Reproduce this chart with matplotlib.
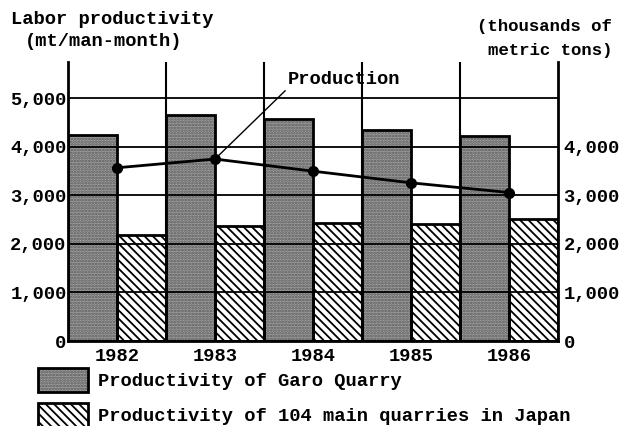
import matplotlib
matplotlib.use("Agg")
import matplotlib.pyplot as plt
from matplotlib.patches import Patch
from matplotlib.legend_handler import HandlerTuple
import numpy as np

years = ["1982", "1983", "1984", "1985", "1986"]
garo = [4250, 4660, 4580, 4350, 4230]
japan = [2190, 2360, 2440, 2410, 2510]
production = [3570, 3750, 3500, 3260, 3060]

plt.rcParams['font.family'] = ['Liberation Mono', 'DejaVu Sans Mono']
plt.rcParams['font.weight'] = 'bold'
plt.rcParams['hatch.linewidth'] = 1.3
fs = 13.5

fig = plt.figure(figsize=(6.21, 4.26), dpi=100)
ax = fig.add_axes([68 / 621, 1 - 341 / 426, 490 / 621, 279 / 426])

x = np.arange(len(years))
w = 0.5
# Garo quarry: stippled grey bars
ax.bar(x - w / 2, garo, w, color='#a4a4a4', edgecolor='#555555',
       hatch='......', linewidth=0, zorder=1)
ax.bar(x - w / 2, garo, w, fill=False, edgecolor='black', linewidth=2, zorder=1.1)
# 104 main quarries: diagonal hatching
ax.bar(x + w / 2, japan, w, color='white', edgecolor='black',
       hatch='\\\\\\\\', linewidth=2, zorder=1)

ax.set_xlim(-0.5, 4.5)
ax.set_ylim(0, 5750)
ax.set_yticks([0, 1000, 2000, 3000, 4000, 5000])
ax.set_yticklabels(["0", "1,000", "2,000", "3,000", "4,000", "5,000"], fontsize=fs)
ax.set_xticks(x)
ax.set_xticklabels(years, fontsize=fs)
ax.set_xticks(x[:-1] + 0.5, minor=True)
ax.tick_params(axis='both', which='both', length=0)
ax.tick_params(axis='y', pad=1)
ax.tick_params(axis='x', pad=5)
ax.set_axisbelow(False)
ax.grid(axis='y', which='major', color='black', linewidth=1.3)
ax.grid(axis='x', which='minor', color='black', linewidth=1.5)
ax.spines['top'].set_visible(False)
for s in ['left', 'right', 'bottom']:
    ax.spines[s].set_linewidth(2)

ax2 = ax.twinx()
ax2.set_ylim(0, 5750)
ax2.set_yticks([0, 1000, 2000, 3000, 4000])
ax2.set_yticklabels(["0", "1,000", "2,000", "3,000", "4,000"], fontsize=fs)
ax2.tick_params(axis='y', length=0, pad=4)
for s in ax2.spines.values():
    s.set_visible(False)
ax2.plot(x, production, color='black', linewidth=2, marker='o', markersize=7)
ax2.annotate("Production", xy=(1, production[1]), xytext=(288, 338),
             textcoords='figure pixels', fontsize=fs, ha='left', va='bottom',
             arrowprops=dict(arrowstyle='-', color='black', linewidth=1,
                             relpos=(0, 0), shrinkA=0, shrinkB=3))

fig.text(11 / 621, 1 - 20 / 426, "Labor productivity", fontsize=fs, va='center')
fig.text(25 / 621, 1 - 42 / 426, "(mt/man-month)", fontsize=fs, va='center')
fig.text(612 / 621, 1 - 27 / 426, "(thousands of", fontsize=12.5, va='center', ha='right')
fig.text(612 / 621, 1 - 50 / 426, "metric tons)", fontsize=12.5, va='center', ha='right')

h1 = (Patch(facecolor='#a4a4a4', edgecolor='#555555', hatch='......', linewidth=0),
      Patch(fill=False, edgecolor='black', linewidth=2))
h2 = Patch(facecolor='white', edgecolor='black', hatch='\\\\\\\\', linewidth=2)
fig.legend([h1, h2], ["Productivity of Garo Quarry",
                      "Productivity of 104 main quarries in Japan"],
           handler_map={tuple: HandlerTuple(ndivide=1, pad=0)},
           loc='upper left', bbox_to_anchor=(34 / 621, 1 - 364 / 426),
           frameon=False, fontsize=fs, handlelength=2.7, handleheight=1.6,
           handletextpad=0.5, labelspacing=0.6, borderaxespad=0, borderpad=0.2)

fig.savefig("out.png", dpi=100)
